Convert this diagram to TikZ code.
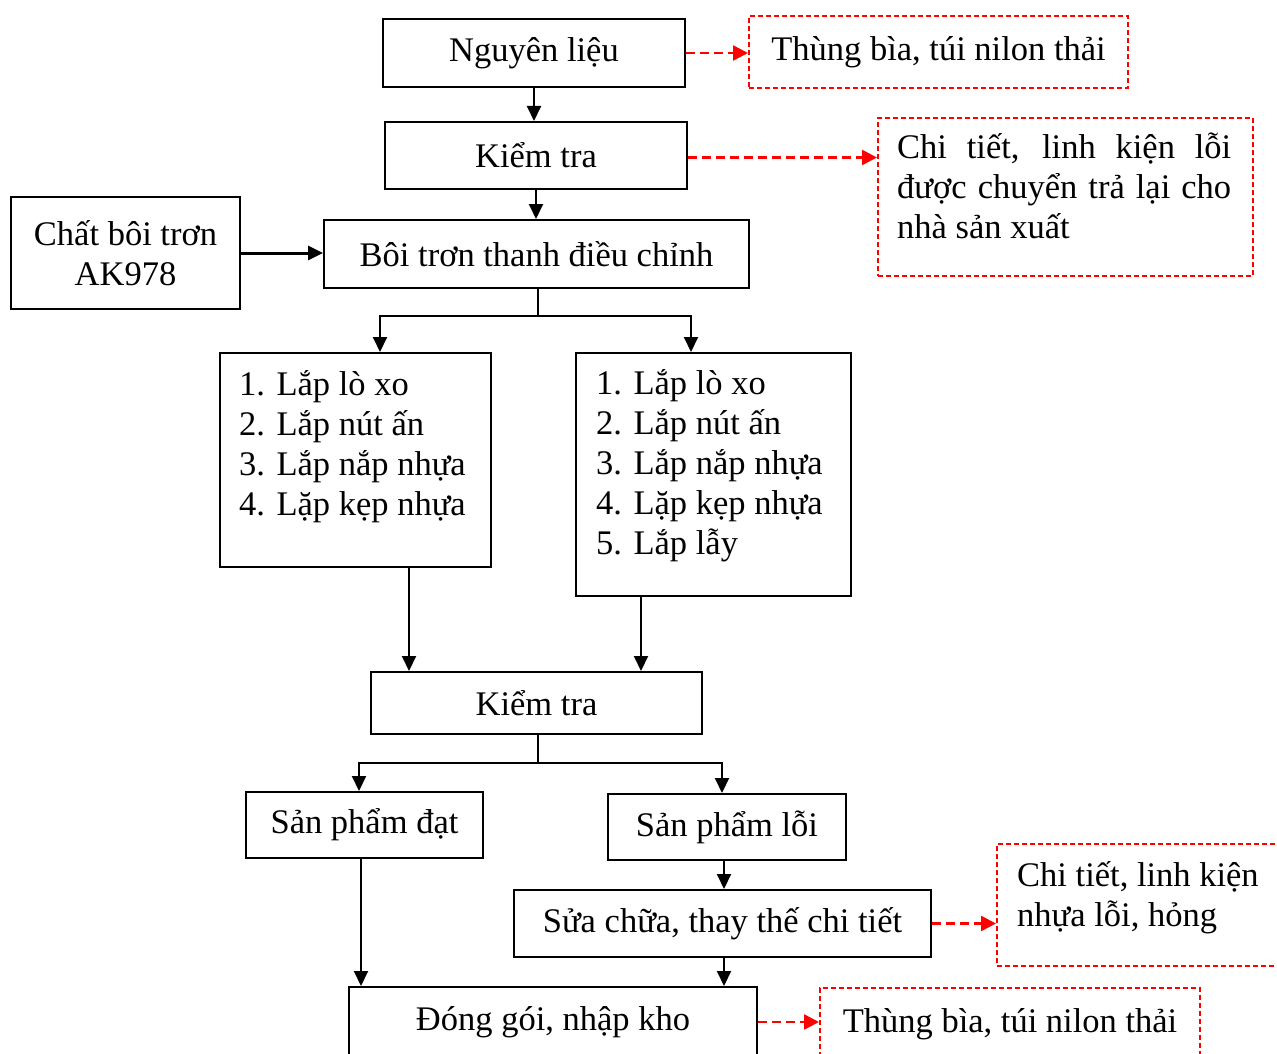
\documentclass[tikz,border=0pt]{standalone}
\usepackage{fontspec}
\setmainfont{Liberation Serif}
\usetikzlibrary{arrows.meta}
\begin{document}
\begin{tikzpicture}[x=1pt,y=-1pt,
  font=\fontsize{34.5}{40}\selectfont,
  box/.style={draw=black, line width=2pt, inner sep=0pt, align=center},
  wbox/.style={draw=red, line width=2pt, dash pattern=on 5pt off 3pt, inner sep=0pt, align=center},
  txt/.style={anchor=north west, inner sep=0pt, align=left},
  arr/.style={draw=black, line width=2pt, -{Triangle[length=15pt,width=14pt]}},
  rarr/.style={draw=red, line width=2.5pt, dash pattern=on 9pt off 5pt, -{Triangle[length=15pt,width=15pt]}, red},
  plain/.style={draw=black, line width=2pt}]
\path[use as bounding box] (0,0) rectangle (1277,1054);
\clip (0,0) rectangle (1277,1054);
\fill[white] (0,0) rectangle (1277,1054);

% nodes
\node[box, minimum width=302pt, minimum height=68pt] (n1) at (534,53) {Nguyên liệu};
\node[wbox, minimum width=379pt, minimum height=72pt] (w1) at (938.5,52) {Thùng bìa, túi nilon thải};
\node[box, minimum width=302pt, minimum height=67pt] (k1) at (536,155.5) {Kiểm tra};
\node[wbox, anchor=north west, minimum width=375pt, minimum height=158pt] (w2) at (877,117) {};
\node[txt] (w2t) at (897,123) {\rule{0pt}{35pt}\makebox[334pt][s]{Chi tiết, linh kiện lỗi}\\\makebox[334pt][s]{được chuyển trả lại cho}\\nhà sản xuất};
\node[box, minimum width=229pt, minimum height=112pt] (c) at (125.5,253) {Chất bôi trơn\\AK978};
\node[box, minimum width=425pt, minimum height=68pt] (b) at (536.5,254) {Bôi trơn thanh điều chỉnh};
\node[box, anchor=north west, minimum width=271pt, minimum height=214pt] (l1) at (219,352) {};
\node[txt] (l1t) at (239,360) {\rule{0pt}{35pt}1. Lắp lò xo\\2. Lắp nút ấn\\3. Lắp nắp nhựa\\4. Lặp kẹp nhựa};
\node[box, anchor=north west, minimum width=275pt, minimum height=243pt] (l2) at (575,352) {};
\node[txt] (l2t) at (596,359) {\rule{0pt}{35pt}1. Lắp lò xo\\2. Lắp nút ấn\\3. Lắp nắp nhựa\\4. Lặp kẹp nhựa\\5. Lắp lẫy};
\node[box, minimum width=331pt, minimum height=62pt] (k2) at (536.5,703) {Kiểm tra};
\node[box, minimum width=237pt, minimum height=66pt] (sd) at (364.5,825) {Sản phẩm đạt};
\node[box, minimum width=238pt, minimum height=66pt] (sl) at (727,827) {Sản phẩm lỗi};
\node[box, minimum width=417pt, minimum height=67pt] (sc) at (722.5,923.5) {Sửa chữa, thay thế chi tiết};
\node[wbox, anchor=north west, minimum width=294pt, minimum height=122pt] (w3) at (996,843) {};
\node[txt] (w3t) at (1017,851) {\rule{0pt}{35pt}Chi tiết, linh kiện\\nhựa lỗi, hỏng};
\node[box, minimum width=408pt, minimum height=70pt] (dg) at (553,1022) {Đóng gói, nhập kho};
\node[wbox, minimum width=380pt, minimum height=72pt] (w4) at (1010,1024) {Thùng bìa, túi nilon thải};

% helper coordinates
\coordinate (j1) at (538,316);
\coordinate (j2) at (538,763);
\coordinate (l1i) at ([xshift=161pt]l1.north west);
\coordinate (l2i) at ([xshift=116pt]l2.north west);
\coordinate (l1o) at ([xshift=190pt]l1.south west);
\coordinate (l2o) at ([xshift=66pt]l2.south west);
\coordinate (sdo) at ([xshift=-3.5pt]sd.south);
\coordinate (slo) at ([xshift=-3pt]sl.south);
\coordinate (sco) at ([xshift=1.5pt]sc.south);

% connectors
\draw[arr] (n1.south) -- (n1.south |- k1.north);
\draw[arr] (k1.south) -- (k1.south |- b.north);
\draw[arr, line width=3pt] (c.east) -- (c.east -| b.west);
\draw[rarr] (n1.east) -- (n1.east -| w1.west);
\draw[rarr] ([yshift=-2pt]k1.east) -- ([yshift=-2pt]k1.east -| w2.west);
\draw[plain] (b.south -| j1) -- (j1);
\draw[arr] (j1) -| (l1i);
\draw[arr] (j1) -| (l2i);
\draw[arr] (l1o) -- (l1o |- k2.north);
\draw[arr] (l2o) -- (l2o |- k2.north);
\draw[plain] (k2.south -| j2) -- (j2);
\draw[arr] (j2) -| ([xshift=-5.5pt]sd.north);
\draw[arr] (j2) -| ([xshift=-5pt]sl.north);
\draw[arr] (slo) -- (slo |- sc.north);
\draw[arr] (sco) -- (sco |- dg.north);
\draw[arr] (sdo) -- (sdo |- dg.north);
\draw[rarr] (sc.east) -- (sc.east -| w3.west);
\draw[rarr] (dg.east) -- (dg.east -| w4.west);
\end{tikzpicture}
\end{document}
